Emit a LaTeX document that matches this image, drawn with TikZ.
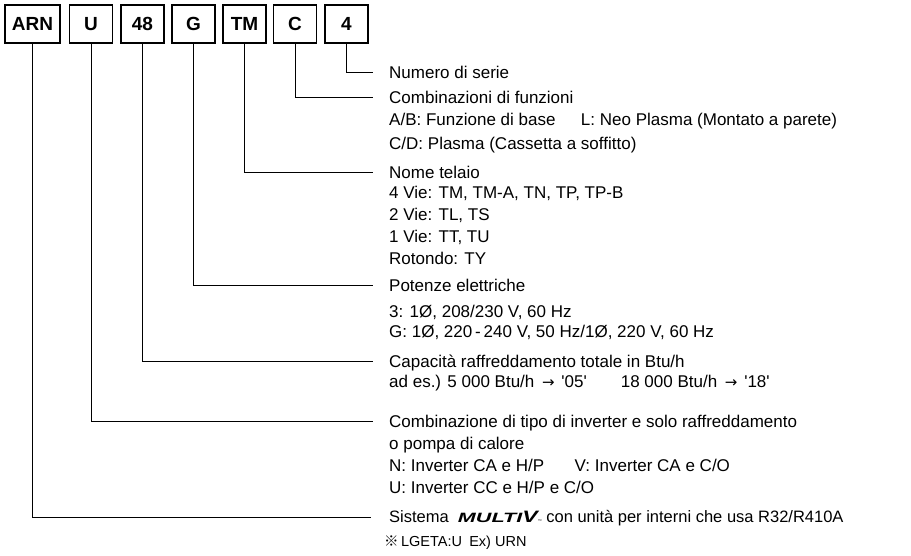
\documentclass[tikz,border=0pt]{standalone}
\usepackage{fontspec}
\setmainfont{Liberation Sans}
\newfontfamily\cjkfont{Noto Sans CJK JP}
\newfontfamily\symfont{DejaVu Sans}
\usetikzlibrary{positioning, calc}

\newcommand{\multivlogo}{{\bfseries\itshape\scalebox{1.6}[1]{\fontsize{13.5}{13.5}\selectfont MULTI}\scalebox{1.4}[1]{\fontsize{16.5}{16.5}\selectfont V}}{\fontsize{4}{4}\selectfont ™}}
\newcommand{\toarrow}{\hspace{0.45em}{\symfont\fontsize{15}{15}\selectfont →}\hspace{0.4em}}

\begin{document}
\begin{tikzpicture}[
      x=1pt, y=-1pt,
      code/.style={rectangle, draw, line width=1.1pt, minimum height=38pt, minimum width=43pt, inner sep=0pt, font=\fontsize{19}{19}\selectfont\bfseries},
      desc/.style={anchor=north west, inner sep=0pt, align=left, font=\fontsize{17}{22}\selectfont},
      lead/.style={line width=0.9pt}
    ]
    \useasboundingbox (0,0) rectangle (911,556);

    \node[code, minimum width=55pt] (arn) at (32.5,24) {ARN};
    \node[code] (u) at (91,24) {U};
    \node[code] (cap) at (142.5,24) {48};
    \node[code] (pw) at (193.5,24) {G};
    \node[code] (tm) at (244.5,24) {TM};
    \node[code] (fn) at (295,24) {C};
    \node[code] (sn) at (346.5,24) {4};

    \coordinate (e1) at (373,72);
    \coordinate (e2) at (373,97);
    \coordinate (e3) at (373,172);
    \coordinate (e4) at (373,285);
    \coordinate (e5) at (373,361);
    \coordinate (e6) at (373,421);
    \coordinate (e7) at (371,517);

    \node[desc] (t1) at ([xshift=16pt, yshift=6pt]e1) {Numero di serie};
    \node[desc] (t2) at ([xshift=16pt, yshift=6pt]e2) {Combinazioni di funzioni\\
      A/B: Funzione di base\hspace{1.5em}L: Neo Plasma (Montato a parete)\\[2pt]
      C/D: Plasma (Cassetta a soffitto)};
    \node[desc] (t3) at ([xshift=16pt, yshift=6pt]e3) {Nome telaio\\[-2pt]
      4 Vie: TM, TM-A, TN, TP, TP-B\\
      2 Vie: TL, TS\\
      1 Vie: TT, TU\\
      Rotondo: TY};
    \node[desc] (t4) at ([xshift=16pt, yshift=6pt]e4) {Potenze elettriche\\[4pt]
      3: 1Ø, 208/230 V, 60 Hz\\[-2pt]
      G: 1Ø, 220\,-\,240 V, 50 Hz/1Ø, 220 V, 60 Hz};
    \node[desc] (t5) at ([xshift=16pt, yshift=6pt]e5) {Capacità raffreddamento totale in Btu/h\\[-2pt]
      ad es.) 5 000 Btu/h\toarrow\textquotesingle05\textquotesingle\hspace{2em}18 000 Btu/h\toarrow\textquotesingle18\textquotesingle};
    \node[desc] (t6) at ([xshift=16pt, yshift=6pt]e6) {Combinazione di tipo di inverter e solo raffreddamento\\
      o pompa di calore\\
      N: Inverter CA e H/P\hspace{1.8em}V: Inverter CA e C/O\\
      U: Inverter CC e H/P e C/O};
    \node[desc, font=\fontsize{16.5}{24}\selectfont] (t7) at ([xshift=18pt, yshift=6.5pt]e7) {Sistema \ \multivlogo\ con unità per interni che usa R32/R410A\\
      \hspace{-5pt}{\fontsize{14.5}{14.5}\selectfont{\cjkfont ※}\,LGETA:U\hspace{0.5em}Ex) URN}};

    \draw[lead] (sn.south) |- (e1);
    \draw[lead] (fn.south) |- (e2);
    \draw[lead] (tm.south) |- (e3);
    \draw[lead] (pw.south) |- (e4);
    \draw[lead] (cap.south) |- (e5);
    \draw[lead] (u.south) |- (e6);
    \draw[lead] (arn.south) |- (e7);
  \end{tikzpicture}
\end{document}
